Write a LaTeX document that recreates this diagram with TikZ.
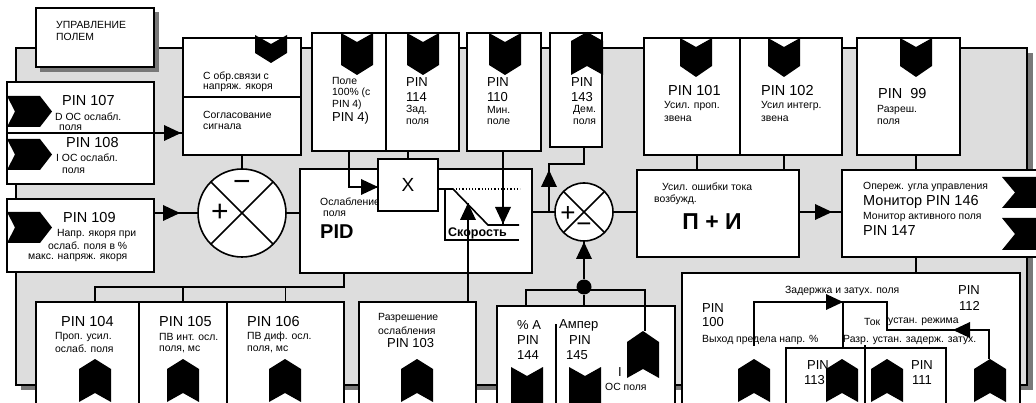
\documentclass[tikz,border=0pt]{standalone}
\usepackage{fontspec}
\setmainfont{Liberation Sans}
\definecolor{pgray}{RGB}{221,221,221}
\definecolor{sgray}{RGB}{120,120,120}
\newcommand{\bx}[5]{\node[box, anchor=north west, minimum width={#4-#2}, minimum height={#5-#3}] (#1) at (#2,#3) {};}
\newcommand{\chD}[4]{\fill (#1-16,#2) -- (#1,#2+9) -- (#1+16,#2) -- (#1+16,#3) -- (#1,#4) -- (#1-16,#3) -- cycle;}
\newcommand{\chU}[4]{\fill (#1,#2) -- (#1+16,#3) -- (#1+16,#4) -- (#1,#4-9) -- (#1-16,#4) -- (#1-16,#3) -- cycle;}
\newcommand{\chR}[4]{\fill (#1,#2) -- (#4-12,#2) -- (#4,{(#2+#3)/2}) -- (#4-12,#3) -- (#1,#3) -- (#1+8,{(#2+#3)/2}) -- cycle;}
\newcommand{\tri}[3]{\fill[shift={(#1,#2)}, rotate=#3] (0,0) -- (-17,8) -- (-17,-8) -- cycle;}
\begin{document}
\begin{tikzpicture}[x=1pt,y=-1pt,
  box/.style={draw, fill=white, line width=1.6pt, inner sep=0, outer sep=0},
  ln/.style={line width=1.6pt},
  sm/.style={font=\fontsize{10.4}{12}\selectfont, inner sep=0, anchor=west},
  md/.style={font=\fontsize{13}{15}\selectfont, inner sep=0, anchor=west},
  lg/.style={font=\fontsize{14.5}{16}\selectfont, inner sep=0, anchor=west},
  sgn/.style={font=\fontsize{30}{30}\selectfont, inner sep=0},
  sumc/.style={circle, draw, fill=white, line width=1.6pt, inner sep=0, outer sep=0}]
\useasboundingbox (0,0) rectangle (1036,403);
\clip (0,0) rectangle (1036,403);
\fill[white] (0,0) rectangle (1036,403);
% panel
\fill[sgray] (21,53) rectangle (1033,390);
\filldraw[fill=pgray, line width=1.5pt] (16,48) rectangle (1027,385);
% title
\fill[sgray] (40,12) rectangle (159,72);
\bx{title}{36}{8}{154}{67}
\node[sm] (t0a) at (56,25) {УПРАВЛЕНИЕ};
\node[sm] (t0b) at (56,37) {ПОЛЕМ};
% boxes
\bx{boxA}{183}{38}{301}{155}
\draw[ln] (boxA.west |- 0,97) -- (boxA.east |- 0,97);
\bx{pinA}{7}{82}{154}{133}
\bx{pinB}{7}{133}{154}{184}
\bx{pinC}{7}{199}{154}{272}
\bx{pid}{300}{169}{532}{273}
\bx{pole}{312}{33}{386}{151}
\bx{p114}{386}{33}{459}{151}
\bx{p110}{467}{33}{541}{151}
\bx{p143}{550}{33}{602}{147}
\bx{p101}{644}{38}{740}{155}
\bx{p102}{740}{38}{842}{155}
\bx{p99}{857}{38}{960}{155}
\bx{pi}{637}{170}{799}{257}
\bx{mon}{842}{170}{1050}{257}
\bx{big}{682}{273}{1020}{420}
\bx{inner}{786}{348}{946}{420}
\draw[ln] (865,345) -- (865,420);
\bx{p104}{36}{302}{139}{420}
\bx{p105}{139}{302}{227}{420}
\bx{p106}{227}{302}{344}{420}
\bx{p103}{359}{302}{476}{420}
\bx{pA}{497}{306}{675}{420}
\draw[ln] (556,324) -- (556,420);
% PID texts
\node[sm] (tpid1) at (320,202) {Ослабление};
\node[sm] (tpid2) at (323,214) {поля};
\node[font=\fontsize{20}{22}\selectfont\bfseries, inner sep=0, anchor=west] (tpid3) at (320,232) {PID};
\bx{xbox}{378}{159}{438}{211}
\node[font=\fontsize{19}{20}\selectfont, inner sep=0] (tx) at (xbox.center) {X};
% summing circles
\node[sumc, minimum size=88] (c1) at (242,213) {};
\draw[ln] (c1.45) -- (c1.225) (c1.135) -- (c1.-45);
\node[sgn] (c1m) at (242,186) {−};
\node[sgn] (c1p) at (220,213) {+};
\node[sumc, minimum size=58] (c2) at (584,212) {};
\draw[ln] (c2.45) -- (c2.225) (c2.135) -- (c2.-45);
\node[sgn, font=\fontsize{26}{26}\selectfont] (c2p) at (568,214) {+};
\node[sgn, font=\fontsize{26}{26}\selectfont] (c2m) at (584,228) {−};
% ramp characteristic
\draw[ln] (xbox.east |- 0,189) -- (453,189) -- (488,225) -- (519,225);
\draw[ln] (445,189) -- (445,240) -- (519,240);
\draw[dotted, line width=1.2pt] (456,189) -- (520,189);
\node[font=\fontsize{12.5}{14}\selectfont\bfseries, inner sep=0, anchor=base west] (tsk) at (448,237) {Скорость};
% connectors
\draw[ln] (pinA.south west) -- (pinA.south west -| boxA.west);
\tri{181}{133}{0}
\draw[ln] (pinC.east |- c1.west) -- (c1.west);
\tri{180}{213}{0}
\draw[ln] (boxA.south) -- (c1.north);
\draw[ln] (c1.east) -- (c1.east -| pid.west);
\draw[ln] (pole.south) |- (xbox.west |- 0,187);
\tri{378}{187}{0}
\draw[ln] (xbox.north |- p114.south) -- (xbox.north);
\draw[ln] (p110.south -| 503,0) -- (503,224);
\tri{503}{224}{-90}
\draw[ln] (p103.north -| 468,0) -- (468,203);
\tri{468}{203}{90}
\draw[ln] (pid.south -| p106.south east) |- (95,287) -- (p104.north -| 95,0);
\draw[ln] (p105.north |- 0,287) -- (p105.north);
\draw[ln] (p106.north |- 0,287) -- (p106.north);
\draw[ln] (pid.east |- c2.west) -- (c2.west);
\draw[ln] (549,212) |- (584,164) -- (p143.south -| 584,0);
\tri{549}{170}{90}
\draw[ln] (c2.east) -- (pi.west |- c2.east);
\draw[ln] (pi.east |- c2.east) -- (mon.west |- c2.east);
\tri{832}{212}{0}
\draw[ln] (p101.south -| 697,0) -- (pi.north -| 697,0);
\draw[ln] (p102.south -| 784,0) -- (pi.north -| 784,0);
\draw[ln] (p99.south -| 916,0) -- (mon.north -| 916,0);
\draw[ln] (mon.south -| 916,0) -- (big.north -| 916,0);
\node[circle, fill, inner sep=0, minimum size=15] (dot) at (584,287) {};
\draw[ln] (dot) -- (c2.south);
\tri{584}{242}{90}
\draw[ln] (pA.north -| 526,0) |- (645,290) -- (645,331);
\draw[ln] (dot) -- (pA.north -| dot);
% bottom-right routing
\draw[ln] (754,346) -- (754,302) -- (887,302) -- (887,330) -- (989,330) -- (989,359);
\tri{843}{302}{0}
\tri{953}{330}{180}
\draw[ln] (843,302) -- (inner.north -| 843,0);
% chevrons
\chD{271}{35}{53}{63}
\chD{357}{33}{65}{75}
\chD{423}{33}{65}{75}
\chD{505}{33}{65}{75}
\chU{587}{32}{41}{75}
\chD{696}{38}{66}{77}
\chD{784}{38}{66}{77}
\chD{916}{38}{66}{77}
\chR{7}{96}{127}{52}
\chR{7}{139}{170}{52}
\chR{7}{212}{243}{52}
\fill (1002,177) -- (1050,177) -- (1050,208) -- (1002,208) -- (1015,192.5) -- cycle;
\fill (1002,218) -- (1050,218) -- (1050,250) -- (1002,250) -- (1015,234) -- cycle;
\chU{95}{359}{369}{402}
\chU{183}{359}{369}{402}
\chU{285}{359}{369}{402}
\chU{417}{359}{369}{402}
\chU{754}{359}{369}{402}
\chU{842}{359}{369}{402}
\chU{887}{359}{369}{402}
\chU{990}{359}{369}{402}
\chD{527}{367}{420}{430}
\chD{585}{367}{420}{430}
\chU{643}{331}{342}{378}
% texts: box A
\node[sm] (ta1) at (203,77) {С обр.связи с};
\node[sm] (ta2) at (203,88) {напряж. якоря};
\node[sm] (ta3) at (203,115) {Согласование};
\node[sm] (ta4) at (203,127) {сигнала};
% left inputs
\node[lg] (tl1) at (62,101) {PIN 107};
\node[sm] (tl2) at (55,117) {D OC ослабл.};
\node[sm] (tl3) at (59,128) {поля};
\node[lg] (tl4) at (66,143) {PIN 108};
\node[sm] (tl5) at (56,158) {I OC ослабл.};
\node[sm] (tl6) at (62,171) {поля};
\node[lg] (tl7) at (63,218) {PIN 109};
\node[sm] (tl8) at (57,234) {Напр. якоря при};
\node[sm] (tl9) at (48,246) {ослаб. поля в \%};
\node[sm] (tl10) at (28,258) {макс. напряж. якоря};
% top boxes
\node[sm] (tp1) at (332,81) {Поле};
\node[sm] (tp2) at (332,93) {100\% (с};
\node[sm] (tp3) at (332,105) {PIN 4)};
\node[md] (tp4) at (332,118) {PIN 4)};
\node[md] (tq1) at (406,82) {PIN};
\node[md] (tq2) at (406,97) {114};
\node[sm] (tq3) at (406,110) {Зад.};
\node[sm] (tq4) at (406,122) {поля};
\node[md] (tr1) at (487,82) {PIN};
\node[md] (tr2) at (487,97) {110};
\node[sm] (tr3) at (487,110) {Мин.};
\node[sm] (tr4) at (487,122) {поле};
\node[md] (ts1) at (571,82) {PIN};
\node[md] (ts2) at (571,97) {143};
\node[sm] (ts3) at (573,110) {Дем.};
\node[sm] (ts4) at (573,122) {поля};
\node[lg] (tu1) at (668,91) {PIN 101};
\node[sm] (tu2) at (664,106) {Усил. проп.};
\node[sm] (tu3) at (664,119) {звена};
\node[lg] (tv1) at (761,91) {PIN 102};
\node[sm] (tv2) at (761,106) {Усил интегр.};
\node[sm] (tv3) at (761,119) {звена};
\node[lg] (tw1) at (878,94) {PIN\ \ 99};
\node[sm] (tw2) at (877,110) {Разреш.};
\node[sm] (tw3) at (877,122) {поля};
% PI and monitor
\node[sm] (tpi1) at (662,187) {Усил. ошибки тока};
\node[sm] (tpi2) at (654,200) {возбужд.};
\node[font=\fontsize{23}{25}\selectfont\bfseries, inner sep=0] (tpi3) at (712,222) {П + И};
\node[sm] (tm1) at (863,187) {Опереж. угла управления};
\node[lg] (tm2) at (863,202) {Монитор PIN 146};
\node[sm] (tm3) at (863,217) {Монитор активного поля};
\node[lg] (tm4) at (863,231) {PIN 147};
% bottom boxes
\node[lg] (tb1) at (61,322) {PIN 104};
\node[sm] (tb2) at (55,337) {Проп. усил.};
\node[sm] (tb3) at (55,349) {ослаб. поля};
\node[lg] (tb4) at (159,322) {PIN 105};
\node[sm] (tb5) at (159,337) {ПВ инт. осл.};
\node[sm] (tb6) at (159,349) {поля, мс};
\node[lg] (tb7) at (247,322) {PIN 106};
\node[sm] (tb8) at (247,337) {ПВ диф. осл.};
\node[sm] (tb9) at (247,349) {поля, мс};
\node[sm] (tc1) at (378,318) {Разрешение};
\node[sm] (tc2) at (378,331) {ослабления};
\node[md] (tc3) at (387,343) {PIN 103};
% %A box
\node[md] (td1) at (517,325) {\% A};
\node[md] (td2) at (517,340) {PIN};
\node[md] (td3) at (517,355) {144};
\node[md] (td4) at (559,325) {Ампер};
\node[md] (td5) at (569,340) {PIN};
\node[md] (td6) at (566,355) {145};
\node[md] (td7) at (618,372) {I};
\node[sm] (td8) at (605,387) {ОС поля};
% bottom-right box
\node[sm] (te1) at (785,291) {Задержка и затух. поля};
\node[md] (te2) at (958,290) {PIN};
\node[md] (te3) at (959,306) {112};
\node[md] (te4) at (702,308) {PIN};
\node[md] (te5) at (702,322) {100};
\node[sm] (te6) at (702,340) {Выход предела напр. \%};
\node[sm] (te7) at (864,322) {Ток};
\node[sm] (te8) at (888,322) {устан. режима};
\node[sm] (te9) at (843,340) {Разр. устан. задерж. затух.};
\node[md] (te10) at (807,365) {PIN};
\node[md] (te11) at (804,380) {113};
\node[md] (te12) at (911,365) {PIN};
\node[md] (te13) at (912,380) {111};
\end{tikzpicture}
\end{document}
